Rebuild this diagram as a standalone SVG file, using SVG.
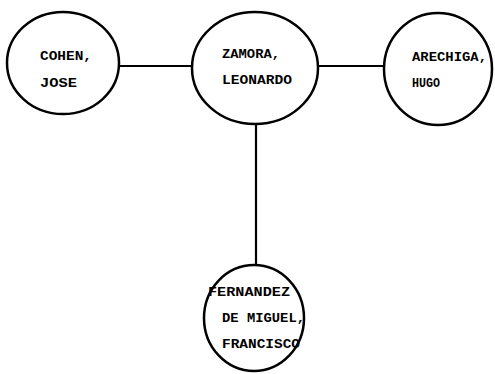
<svg xmlns="http://www.w3.org/2000/svg" width="495" height="374" viewBox="0 0 495 374">
<style>
.node{fill:#fff;stroke:#000;stroke-width:2.5}
.edge{stroke:#000;stroke-width:2.2;fill:none}
text{font-family:"Liberation Mono","Courier New",monospace;font-weight:bold;font-size:13px;fill:#000}
</style>
<rect width="495" height="374" fill="#fff"/>
<g id="connectors">
<line class="edge" x1="119" y1="66" x2="192" y2="66"/>
<line class="edge" x1="318" y1="66" x2="384" y2="66"/>
<line class="edge" x1="256" y1="124" x2="256" y2="266"/>
</g>
<g id="cohen">
<ellipse class="node" cx="63" cy="63" rx="56" ry="51"/>
<text x="40" y="60" textLength="52" lengthAdjust="spacingAndGlyphs">COHEN,</text>
<text x="40" y="87" textLength="37" lengthAdjust="spacingAndGlyphs">JOSE</text>
</g>
<g id="zamora">
<ellipse class="node" cx="255" cy="68" rx="63" ry="56"/>
<text x="222" y="58" textLength="58" lengthAdjust="spacingAndGlyphs">ZAMORA,</text>
<text x="222" y="84" textLength="70" lengthAdjust="spacingAndGlyphs">LEONARDO</text>
</g>
<g id="arechiga">
<ellipse class="node" cx="438" cy="69" rx="54" ry="56"/>
<text x="412" y="61" textLength="75" lengthAdjust="spacingAndGlyphs">ARECHIGA,</text>
<text x="412" y="87" textLength="28" lengthAdjust="spacingAndGlyphs">HUGO</text>
</g>
<g id="fernandez">
<ellipse class="node" cx="254" cy="318" rx="50" ry="53"/>
<text x="208" y="296" textLength="82" lengthAdjust="spacingAndGlyphs">FERNANDEZ</text>
<text x="222" y="322" textLength="83" lengthAdjust="spacingAndGlyphs">DE MIGUEL,</text>
<text x="222" y="348" textLength="78" lengthAdjust="spacingAndGlyphs">FRANCISCO</text>
</g>
</svg>
